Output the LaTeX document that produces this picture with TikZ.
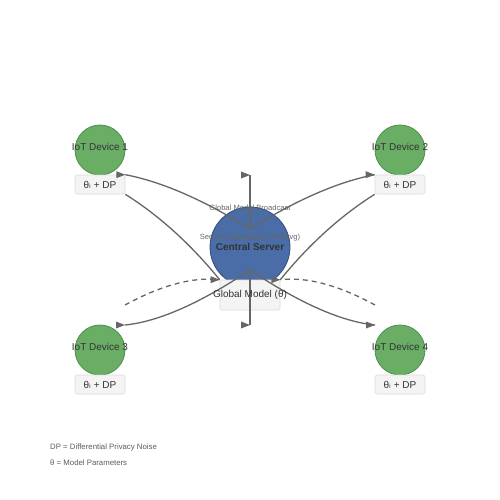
\documentclass[tikz,border=0pt]{standalone}
\usepackage{fontspec}
\setmainfont{Liberation Sans}
\newfontfamily\dvs{DejaVu Sans}
\definecolor{devfill}{HTML}{6AAE66}
\definecolor{devdraw}{HTML}{4F8F4C}
\definecolor{srvfill}{HTML}{4A6DA7}
\definecolor{srvdraw}{HTML}{2F4F82}
\definecolor{boxfill}{HTML}{F4F4F4}
\definecolor{boxdraw}{HTML}{DDDDDD}
\definecolor{linegray}{HTML}{666666}
\definecolor{txt}{HTML}{333333}
\newcommand\tipat[1]{\fill[linegray] (#1) -- ++(-9,-3.5) -- ++(0,7) -- cycle;}
\newcommand\thsub{θ{\dvs ᵢ}}
\begin{document}
\begin{tikzpicture}[x=1pt,y=-1pt,
  device/.style={circle,minimum size=50pt,inner sep=0pt,fill=devfill,draw=devdraw,line width=0.8pt},
  server/.style={circle,minimum size=80pt,inner sep=0pt,fill=srvfill,draw=srvdraw,line width=0.8pt},
  parbox/.style={rectangle,minimum width=50pt,minimum height=19pt,inner sep=0pt,fill=boxfill,draw=boxdraw,line width=0.6pt,rounded corners=1.5pt},
  gmbox/.style={parbox,minimum width=60pt,minimum height=30pt},
  lbl/.style={text=txt,font=\fontsize{10}{12}\selectfont,inner sep=0pt},
  small/.style={text=linegray,font=\fontsize{7.6}{9}\selectfont,inner sep=0pt},
  legend/.style={text=txt!80,font=\fontsize{7.8}{9}\selectfont,inner sep=0pt,anchor=west},
  conn/.style={draw=linegray,line width=1.3pt},
  dconn/.style={conn,dash pattern=on 5pt off 4pt}]
\useasboundingbox (0,0) rectangle (500,500);
\fill[white] (0,0) rectangle (500,500);
% devices
\node[device] (d1) at (100,150) {};
\node[device] (d2) at (400,150) {};
\node[device] (d3) at (100,350) {};
\node[device] (d4) at (400,350) {};
\node[parbox] (b1) at (100,184.5) {};
\node[parbox] (b2) at (400,184.5) {};
\node[parbox] (b3) at (100,384.5) {};
\node[parbox] (b4) at (400,384.5) {};
% server
\node[server] (srv) at (250,247) {};
\node[gmbox] (gm) at (250,295) {};
% connector points
\coordinate (st) at (250,229);
\coordinate (sb) at (250,270);
\coordinate (tt) at (250,175);
\coordinate (bt) at (250,325);
\coordinate (e3) at (125,325);
\coordinate (e4) at (375,325);
\coordinate (s3) at (125,305);
\coordinate (s4) at (375,305);
% uploads
\draw[conn] (b1.south east) .. controls (158.3,215) and (190,243.3) .. (gm.north west);
\draw[conn] (b2.south west) .. controls (341.7,215) and (310,243.3) .. (gm.north east);
\draw[dconn] (s3) .. controls (161.7,285) and (193.3,276.7) .. (gm.north west);
\draw[dconn] (s4) .. controls (338.3,285) and (306.7,276.7) .. (gm.north east);
% broadcasts
\draw[conn] (st) .. controls (203.3,199.7) and (161.7,181.7) .. (b1.north east);
\draw[conn] (st) .. controls (296.7,199.7) and (338.3,181.7) .. (b2.north west);
\draw[conn] (st) -- (tt);
\draw[conn] (sb) .. controls (200,303.3) and (158.3,321.7) .. (e3);
\draw[conn] (sb) .. controls (300,303.3) and (341.7,321.7) .. (e4);
\draw[conn] (sb) -- (bt);
% tips
\tipat{b1.north east}
\tipat{b2.north west}
\tipat{tt}
\tipat{gm.north west}
\tipat{gm.north east}
\tipat{e3}
\tipat{e4}
\tipat{bt}
% texts
\node[lbl] (l1) at (100,146.5) {IoT Device 1};
\node[lbl] (l2) at (400,146.5) {IoT Device 2};
\node[lbl] (l3) at (100,346.5) {IoT Device 3};
\node[lbl] (l4) at (400,346.5) {IoT Device 4};
\node[lbl] (p1) at (b1) {\thsub{} + DP};
\node[lbl] (p2) at (b2) {\thsub{} + DP};
\node[lbl] (p3) at (b3) {\thsub{} + DP};
\node[lbl] (p4) at (b4) {\thsub{} + DP};
\node[lbl,font=\fontsize{10}{12}\selectfont\bfseries] (cs) at (250,246.5) {Central Server};
\node[small] (sa) at (250,237.5) {Secure Aggregation (FedAvg)};
\node[small] (gb) at (250,207.5) {Global Model Broadcast};
\node[lbl] (gml) at (250,294.5) {Global Model (θ)};
\node[legend] (lg1) at (50,447.5) {DP = Differential Privacy Noise};
\node[legend] (lg2) at (50,462.5) {θ = Model Parameters};
\end{tikzpicture}
\end{document}
